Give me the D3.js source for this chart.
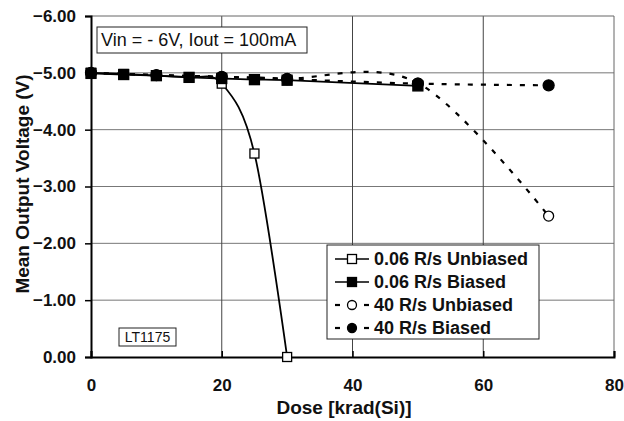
<!DOCTYPE html>
<html><head><meta charset="utf-8">
<script src="https://cdn.jsdelivr.net/npm/d3@7"></script>
<style>html,body{margin:0;padding:0;background:#fff}svg{display:block}</style>
</head><body>
<svg id="c" width="624" height="421"></svg>
<script>
// ---- data ----
const xTicks = [0, 20, 40, 60, 80];
const yTicks = [0, -1, -2, -3, -4, -5, -6];
const slowDose = [0, 5, 10, 15, 20, 25, 30];
const slowUnbiased = [-5.00, -4.98, -4.95, -4.92, -4.81, -3.58, 0.00];
const slowBiasedDose = [0, 5, 10, 15, 20, 25, 30, 50];
const slowBiased = [-4.99, -4.97, -4.95, -4.92, -4.90, -4.88, -4.87, -4.77];
const fastDose = [0, 10, 20, 30, 50, 70];
const fastUnbiased = [-5.00, -4.96, -4.93, -4.90, -4.82, -2.48];
const fastBiased = [-5.00, -4.96, -4.93, -4.89, -4.81, -4.78];
const seriesNames = ["0.06 R/s Unbiased", "0.06 R/s Biased", "40 R/s Unbiased", "40 R/s Biased"];

const svg = d3.select("#c");
const L = 91, R = 614, T = 16, B = 357;
const x = d3.scaleLinear().domain([0, 80]).range([L, R]);
const y = d3.scaleLinear().domain([0, -6]).range([B, T]);
const font = "Liberation Sans, Arial, Helvetica, sans-serif";

// gridlines
svg.append("g").selectAll("line").data(yTicks.filter(v => v !== 0 && v !== -6)).join("line")
  .attr("x1", L).attr("x2", R).attr("y1", d => y(d)).attr("y2", d => y(d))
  .attr("stroke", "#777").attr("stroke-width", 1);
svg.append("g").selectAll("line").data(xTicks.filter(v => v !== 0 && v !== 80)).join("line")
  .attr("y1", T).attr("y2", B).attr("x1", d => x(d)).attr("x2", d => x(d))
  .attr("stroke", "#444").attr("stroke-width", 1);
// top and right border
svg.append("line").attr("x1", L).attr("x2", R).attr("y1", y(-6)).attr("y2", y(-6)).attr("stroke", "#666").attr("stroke-width", 1);
svg.append("line").attr("x1", x(80)).attr("x2", x(80)).attr("y1", T).attr("y2", B).attr("stroke", "#666").attr("stroke-width", 1);

// axes
const yAxis = svg.append("g").attr("transform", `translate(${L},0)`)
  .call(d3.axisLeft(y).tickValues(yTicks).tickFormat(d => d3.format(".2f")(d)).tickSize(6).tickPadding(9));
const xAxis = svg.append("g").attr("transform", `translate(0,${B})`)
  .call(d3.axisBottom(x).tickValues(xTicks).tickSize(-6).tickPadding(22));
[yAxis, xAxis].forEach(a => {
  a.select(".domain").attr("stroke", "#000").attr("stroke-width", 2);
  a.selectAll(".tick line").attr("stroke", "#000").attr("stroke-width", 1.5);
  a.selectAll("text").attr("font-family", font).attr("font-weight", "bold").attr("font-size", 17).attr("fill", "#111");
});

// annotation box
svg.append("rect").attr("x", 97).attr("y", 27).attr("width", 210).attr("height", 26)
  .attr("fill", "#fff").attr("stroke", "#222").attr("stroke-width", 1);
svg.append("text").attr("x", 101).attr("y", 46).attr("font-family", font).attr("font-size", 18).attr("fill", "#111")
  .text("Vin = - 6V, Iout = 100mA");

// LT1175 box
svg.append("rect").attr("x", 119).attr("y", 328).attr("width", 57).attr("height", 18)
  .attr("fill", "#fff").attr("stroke", "#222").attr("stroke-width", 1);
svg.append("text").attr("x", 147.5).attr("y", 342).attr("text-anchor", "middle").attr("font-family", font).attr("font-size", 14).attr("fill", "#111")
  .text("LT1175");

// series
const curve = d3.curveCardinal.tension(0);
function mk(xs, ys) { return xs.map((d, i) => [d, ys[i]]); }
const series = [
  {pts: mk(slowDose, slowUnbiased), dash: null, marker: "sq", fill: "#fff"},
  {pts: mk(slowBiasedDose, slowBiased), dash: null, marker: "sq", fill: "#000"},
  {pts: mk(fastDose, fastUnbiased), dash: "5,8", marker: "ci", fill: "#fff"},
  {pts: mk(fastDose, fastBiased), dash: "5,8", marker: "ci", fill: "#000"}
];
const line = d3.line().x(d => x(d[0])).y(d => y(d[1])).curve(curve);
function drawMarker(g, type, fill, cx, cy, s) {
  if (type === "sq") {
    g.append("rect").attr("x", cx - s / 2).attr("y", cy - s / 2).attr("width", s).attr("height", s)
      .attr("fill", fill).attr("stroke", "#000").attr("stroke-width", 1.3);
  } else {
    g.append("circle").attr("cx", cx).attr("cy", cy).attr("r", s / 2)
      .attr("fill", fill).attr("stroke", "#000").attr("stroke-width", 1.3);
  }
}
series.forEach(s => {
  const g = svg.append("g");
  g.append("path").attr("d", line(s.pts)).attr("fill", "none").attr("stroke", "#000")
    .attr("stroke-width", s.dash ? 2.2 : 1.8).attr("stroke-dasharray", s.dash);
  s.pts.forEach(p => drawMarker(g, s.marker, s.fill, x(p[0]), y(p[1]),
    s.marker === "sq" ? (s.fill === "#000" ? 10 : 9) : (s.fill === "#000" ? 11 : 10)));
});

// legend
const lg = svg.append("g");
lg.append("rect").attr("x", 327).attr("y", 245).attr("width", 212).attr("height", 94)
  .attr("fill", "#fff").attr("stroke", "#222").attr("stroke-width", 1);
seriesNames.forEach((name, i) => {
  const s = series[i];
  const cy = 259 + i * 23;
  if (s.dash) {
    lg.append("line").attr("x1", 335).attr("x2", 340).attr("y1", cy).attr("y2", cy).attr("stroke", "#000").attr("stroke-width", 2.2);
    lg.append("line").attr("x1", 364).attr("x2", 369).attr("y1", cy).attr("y2", cy).attr("stroke", "#000").attr("stroke-width", 2.2);
  } else {
    lg.append("line").attr("x1", 335).attr("x2", 369).attr("y1", cy).attr("y2", cy).attr("stroke", "#000").attr("stroke-width", 1.6);
  }
  drawMarker(lg, s.marker, s.fill, 352, cy, 9);
  lg.append("text").attr("x", 374).attr("y", cy + 6).attr("font-family", font).attr("font-weight", "bold")
    .attr("font-size", 18).attr("fill", "#111").text(name);
});

// axis titles
svg.append("text").attr("x", 344).attr("y", 414).attr("text-anchor", "middle").attr("font-family", font)
  .attr("font-weight", "bold").attr("font-size", 19).attr("fill", "#111").text("Dose [krad(Si)]");
svg.append("text").attr("transform", "translate(29,184) rotate(-90)").attr("text-anchor", "middle").attr("font-family", font)
  .attr("font-weight", "bold").attr("font-size", 19).attr("fill", "#111").text("Mean Output Voltage (V)");
</script>
</body></html>
